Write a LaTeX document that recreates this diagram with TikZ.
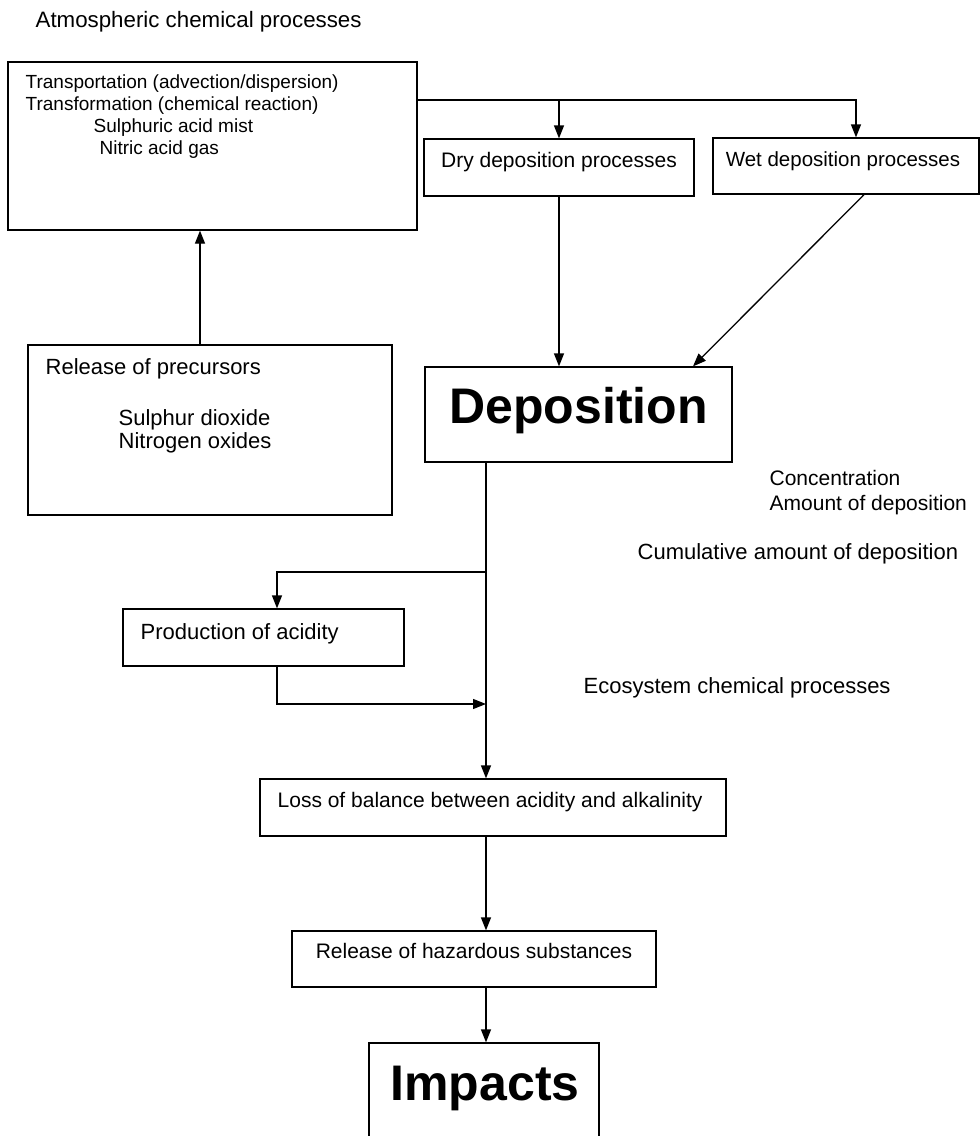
\documentclass[tikz,border=0pt]{standalone}
\usepackage{fontspec}
\setmainfont{Liberation Sans}
\usetikzlibrary{arrows.meta}

\begin{document}
\begin{tikzpicture}[x=1pt, y=-1pt, line width=1.3pt,
    >={Triangle[length=13pt,width=10pt]},
    box/.style={draw, inner sep=0pt},
    txt/.style={inner sep=0pt, anchor=base west, font=\fontsize{21}{25}\selectfont},
    wide/.style={txt, font=\fontsize{22}{26}\selectfont},
    small/.style={inner sep=0pt, anchor=base west, font=\fontsize{19}{22}\selectfont},
    big/.style={inner sep=0pt, anchor=base, font=\fontsize{50}{60}\selectfont\bfseries}]
    \useasboundingbox (0,0) rectangle (980,1136);
    \node[wide, font=\fontsize{22.3}{26}\selectfont] (title) at (35,27) {Atmospheric chemical processes};
    % boxes
    \node[box, minimum width=409, minimum height=168] (atm) at (212.5,146) {};
    \node[box, minimum width=364, minimum height=170] (rel) at (210,430) {};
    \node[box, minimum width=270, minimum height=57] (dry) at (559,167.5) {};
    \node[box, minimum width=266, minimum height=56] (wet) at (846,166) {};
    \node[box, minimum width=307, minimum height=95] (depo) at (578.5,414.5) {};
    \node[box, minimum width=281, minimum height=57] (prod) at (263.5,637.5) {};
    \node[box, minimum width=466, minimum height=57] (loss) at (493,807.5) {};
    \node[box, minimum width=364, minimum height=56] (haz) at (474,959) {};
    \node[box, minimum width=230, minimum height=110] (imp) at (484,1098) {};
    % texts
    \node[small] (tr1) at (25,88) {Transportation (advection/dispersion)};
    \node[small] (tr2) at (25,110) {Transformation (chemical reaction)};
    \node[small] (tr3) at (93,132.5) {Sulphuric acid mist};
    \node[small] (tr4) at (99,154) {Nitric acid gas};
    \node[wide] (rl1) at (45,374) {Release of precursors};
    \node[wide] (rl2) at (118,425) {Sulphur dioxide};
    \node[wide] (rl3) at (118,448) {Nitrogen oxides};
    \node[txt, anchor=base] (drytxt) at (559,167) {Dry deposition processes};
    \node[txt, anchor=base, font=\fontsize{20.5}{25}\selectfont] (wettxt) at (843,166) {Wet deposition processes};
    \node[big] (depotxt) at (578.5,423) {Deposition};
    \node[txt] (conc) at (769,485) {Concentration};
    \node[txt] (amt) at (769,510) {Amount of deposition};
    \node[wide] (cum) at (637,559) {Cumulative amount of deposition};
    \node[wide] (prodtxt) at (140,639) {Production of acidity};
    \node[wide] (eco) at (583,693) {Ecosystem chemical processes};
    \node[txt] (losstxt) at (277,807) {Loss of balance between acidity and alkalinity};
    \node[txt, anchor=base] (haztxt) at (474,958) {Release of hazardous substances};
    \node[big] (imptxt) at (485,1100) {Impacts};
    % connectors
    \coordinate (up) at ([xshift=-10pt]rel.north);
    \coordinate (tap) at ([yshift=46pt]atm.east);
    \coordinate (wetin) at ([xshift=10pt]wet.north);
    \coordinate (trunk) at ([xshift=-92.5pt]depo.south);
    \draw[->] (up) -- (up |- atm.south);
    \draw[->] (tap) -| (wetin);
    \draw[->] (tap -| dry.north) -- (dry.north);
    \draw[->] (dry.south) -- (dry.south |- depo.north);
    \draw[->] ([xshift=18pt]wet.south) -- ([xshift=114.5pt]depo.north);
    \draw[->] (trunk) -- (trunk |- loss.north);
    \draw[->] (trunk |- 0,572) -| ([xshift=13.5pt]prod.north);
    \draw[->] ([xshift=13.5pt]prod.south) |- (trunk |- 0,704);
    \draw[->] (trunk |- loss.south) -- (trunk |- haz.north);
    \draw[->] (trunk |- haz.south) -- (trunk |- imp.north);
\end{tikzpicture}
\end{document}
